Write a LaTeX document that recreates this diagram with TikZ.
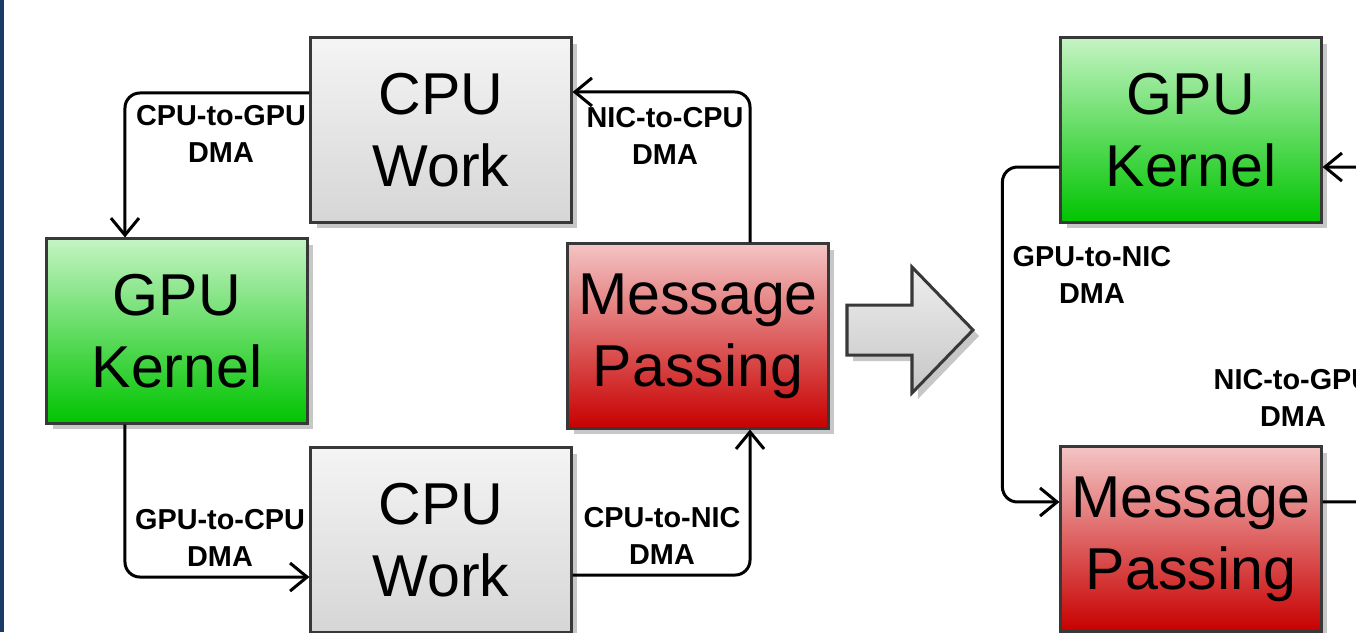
\documentclass[tikz,border=0pt]{standalone}
\usepackage{fontspec}
\setmainfont{Liberation Sans}
\usetikzlibrary{arrows.meta, shadows}

\definecolor{edgegray}{HTML}{383838}
\definecolor{stripblue}{HTML}{1B3A66}
\definecolor{cputop}{HTML}{F4F4F4}
\definecolor{cpubot}{HTML}{D6D6D6}
\definecolor{gputop}{HTML}{C4F4C4}
\definecolor{gpubot}{HTML}{00C400}
\definecolor{msgtop}{HTML}{F4C4C4}
\definecolor{msgbot}{HTML}{C80000}
\definecolor{arrtop}{HTML}{EEEEEE}
\definecolor{arrbot}{HTML}{C6C6C6}

\begin{document}
\begin{tikzpicture}[x=0.01cm, y=-0.01cm,
    unitbox/.style={draw=edgegray, line width=0.03cm, minimum width=2.6cm,
        minimum height=1.84cm, inner sep=0pt, align=center,
        font=\fontsize{16.8}{20.5}\selectfont,
        drop shadow={shadow xshift=0.06cm, shadow yshift=-0.06cm, fill=black, opacity=0.22}},
    cpubox/.style={unitbox, top color=cputop, bottom color=cpubot},
    gpubox/.style={unitbox, top color=gputop, bottom color=gpubot},
    msgbox/.style={unitbox, top color=msgtop, bottom color=msgbot},
    flow/.style={-{Straight Barb[length=0.17cm, width=0.28cm]}, line width=0.03cm,
        rounded corners=0.15cm},
    dmalabel/.style={align=center, inner sep=0pt,
        font=\fontsize{8.2}{10.7}\selectfont\bfseries}]

    \clip (0,0) rectangle (1356,632);
    \fill[white] (0,0) rectangle (1356,632);
    \fill[stripblue] (0,0) rectangle (4,632);

    % before: host staged loop
    \node[cpubox] (cpuA) at (441,130) {CPU\\Work};
    \node[gpubox] (gpuA) at (177,331) {GPU\\Kernel};
    \node[msgbox] (msgA) at (698,336) {Message\\Passing};
    \node[cpubox] (cpuB) at (441,540) {CPU\\Work};

    \draw[flow] ([yshift=0.37cm]cpuA.west) -| ([xshift=-0.52cm]gpuA.north);
    \draw[flow] ([xshift=-0.52cm]gpuA.south) |- ([yshift=-0.37cm]cpuB.west);
    \draw[flow] ([yshift=-0.35cm]cpuB.east) -| ([xshift=0.52cm]msgA.south);
    \draw[flow] ([xshift=0.52cm]msgA.north) |- ([yshift=0.38cm]cpuA.east);

    \node[dmalabel] (lblA) at (221,134) {CPU-to-GPU\\DMA};
    \node[dmalabel] (lblB) at (220,538) {GPU-to-CPU\\DMA};
    \node[dmalabel] (lblC) at (662,536) {CPU-to-NIC\\DMA};
    \node[dmalabel] (lblD) at (665,136) {NIC-to-CPU\\DMA};

    % big arrow
    \path[draw=edgegray, line width=0.03cm, top color=arrtop, bottom color=arrbot,
        drop shadow={shadow xshift=0.06cm, shadow yshift=-0.06cm, fill=black, opacity=0.22}]
        (847,305) -- (912,305) -- (912,267) -- (973,330) -- (912,393)
        -- (912,355) -- (847,355) -- cycle;

    % after: direct loop
    \node[gpubox] (gpuB) at (1191,130) {GPU\\Kernel};
    \node[msgbox] (msgB) at (1191,539) {Message\\Passing};

    \draw[flow] ([yshift=-0.37cm]gpuB.west) -- ++(-57,0) |- ([yshift=0.37cm]msgB.west);
    \draw[flow] ([yshift=0.37cm]msgB.east) -- ++(60,0) |- ([yshift=-0.37cm]gpuB.east);

    \node[dmalabel] (lblE) at (1092,275) {GPU-to-NIC\\DMA};
    \node[dmalabel] (lblF) at (1293,398) {NIC-to-GPU\\DMA};

\end{tikzpicture}
\end{document}
